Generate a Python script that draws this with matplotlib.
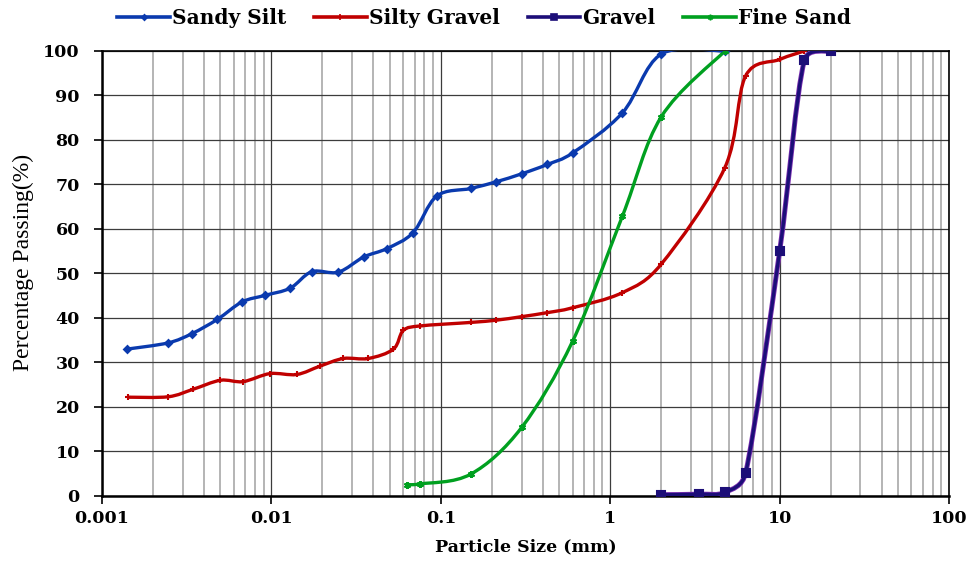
import numpy as np
import matplotlib
matplotlib.use("Agg")
import matplotlib.pyplot as plt
from matplotlib.path import Path
from matplotlib.patches import PathPatch
from matplotlib.lines import Line2D
from matplotlib.ticker import FixedLocator, LogLocator, NullFormatter
import matplotlib.patheffects as pe

# datos
sandy_x = [0.0014, 0.00245, 0.0034, 0.0048, 0.0067, 0.0092, 0.0129, 0.0173, 0.0248, 0.035,
           0.048, 0.0686, 0.0946, 0.15, 0.212, 0.3, 0.425, 0.6, 1.18, 2.0, 4.75]
sandy_y = [33.0, 34.4, 36.5, 39.7, 43.6, 45.1, 46.7, 50.4, 50.3, 53.7,
           55.6, 59.2, 67.4, 69.1, 70.6, 72.4, 74.5, 77.1, 86.1, 99.3, 100]

silty_x = [0.00143, 0.00246, 0.00346, 0.005, 0.0068, 0.0098, 0.0141, 0.0194, 0.0266, 0.0373,
           0.0525, 0.06, 0.075, 0.15, 0.212, 0.3, 0.425, 0.6, 1.18, 2.0, 4.75, 6.3, 10, 14]
silty_y = [22.2, 22.3, 24.0, 26.0, 25.7, 27.5, 27.3, 29.2, 30.9, 30.9,
           33.0, 37.2, 38.2, 39.0, 39.5, 40.3, 41.2, 42.3, 45.7, 52.1, 73.8, 94.4, 98.1, 100]

gravel_x = [2.0, 3.35, 4.75, 6.3, 10, 14, 20]
gravel_y = [0.3, 0.4, 0.8, 5.2, 55.0, 97.9, 100]

fine_x = [0.063, 0.075, 0.15, 0.3, 0.6, 1.18, 2.0, 4.75]
fine_y = [2.5, 2.7, 4.9, 15.4, 34.8, 62.9, 85.2, 100]

names = ["Sandy Silt", "Silty Gravel", "Gravel", "Fine Sand"]
xticks = [0.001, 0.01, 0.1, 1, 10, 100]
xtick_labels = ["0.001", "0.01", "0.1", "1", "10", "100"]
yticks = list(range(0, 101, 10))

plt.rcParams['font.family'] = ['DejaVu Serif']

fig = plt.figure(figsize=(9.69, 5.61), dpi=100)
ax = fig.add_axes([0.1053, 0.1159, 0.8741, 0.7932])
ax.set_xscale('log')
ax.set_xlim(0.001, 100)
ax.set_ylim(0, 100)


def smooth_path(xs, ys):
    # curva suave tipo Excel (Catmull-Rom en pixeles, tangente acotada por el tramo)
    pts = ax.transData.transform(np.column_stack([xs, ys]))
    n = len(pts)
    verts = [pts[0]]
    codes = [Path.MOVETO]

    def ctrl(v, d):
        L = np.hypot(*v) / 6
        if L == 0:
            return v
        return v / 6 * min(1.0, (d / 2) / L)

    for i in range(n - 1):
        p0 = pts[i - 1] if i > 0 else pts[i]
        p1 = pts[i]
        p2 = pts[i + 1]
        p3 = pts[i + 2] if i + 2 < n else pts[i + 1]
        d = np.hypot(*(p2 - p1))
        verts += [p1 + ctrl(p2 - p0, d), p2 - ctrl(p3 - p1, d), p2]
        codes += [Path.CURVE4] * 3
    return Path(ax.transData.inverted().transform(np.array(verts)), codes)


series = [
    (sandy_x, sandy_y, '#0A3AAE', 'D', 3.5, None),
    (silty_x, silty_y, '#C00000', '+', 5, None),
    (gravel_x, gravel_y, '#1C0E78', 's', 5.5, '#7A2FB0'),
    (fine_x, fine_y, '#00A020', (6, 2, 0), 5, None),
]

handles = []
for (xs, ys, c, m, ms, glow), name in zip(series, names):
    effects = [pe.Stroke(linewidth=3.6, foreground=glow), pe.Normal()] if glow else None
    patch = PathPatch(smooth_path(xs, ys), facecolor='none', edgecolor=c, lw=2.4,
                      zorder=3, path_effects=effects)
    ax.add_patch(patch)
    ax.plot(xs, ys, ls='none', marker=m, ms=ms, color=c, mec=c, mew=1.5, zorder=4)
    handles.append(Line2D([], [], color=c, lw=2.6, marker=m, ms=ms * 0.8, mew=1.2, label=name))

# rejilla
ax.xaxis.set_major_locator(FixedLocator(xticks))
ax.xaxis.set_minor_locator(LogLocator(base=10, subs=np.arange(2, 10)))
ax.xaxis.set_minor_formatter(NullFormatter())
ax.set_xticklabels(xtick_labels)
ax.set_yticks(yticks)
ax.grid(which='major', color='#3c3c3c', lw=0.9, zorder=1)
ax.grid(which='minor', axis='x', color='#b4b4b4', lw=1.4, zorder=0)
ax.set_axisbelow(True)

for s in ax.spines.values():
    s.set_color('black')
    s.set_linewidth(1.2)
ax.spines['left'].set_linewidth(1.8)
ax.spines['bottom'].set_linewidth(1.8)

ax.tick_params(which='major', direction='out', length=6, width=1.2, pad=4)
ax.tick_params(which='minor', length=0)
ax.tick_params(axis='y', pad=10)
for lab in ax.get_xticklabels() + ax.get_yticklabels():
    lab.set_fontweight('bold')
    lab.set_fontsize(12.5)

ax.set_xlabel("Particle Size (mm)", fontsize=12.5, fontweight='bold', labelpad=8)
ax.set_ylabel("Percentage Passing(%)", fontsize=17, family='Liberation Serif')
ax.yaxis.set_label_coords(-0.08, 0.525)

ax.legend(handles=handles, loc='center', bbox_to_anchor=(0.451, 1.075), ncol=4,
          frameon=False, prop={'weight': 'bold', 'size': 14.5}, handlelength=2.6,
          handletextpad=0.1, columnspacing=1.4)

fig.savefig("out.png", dpi=100)
